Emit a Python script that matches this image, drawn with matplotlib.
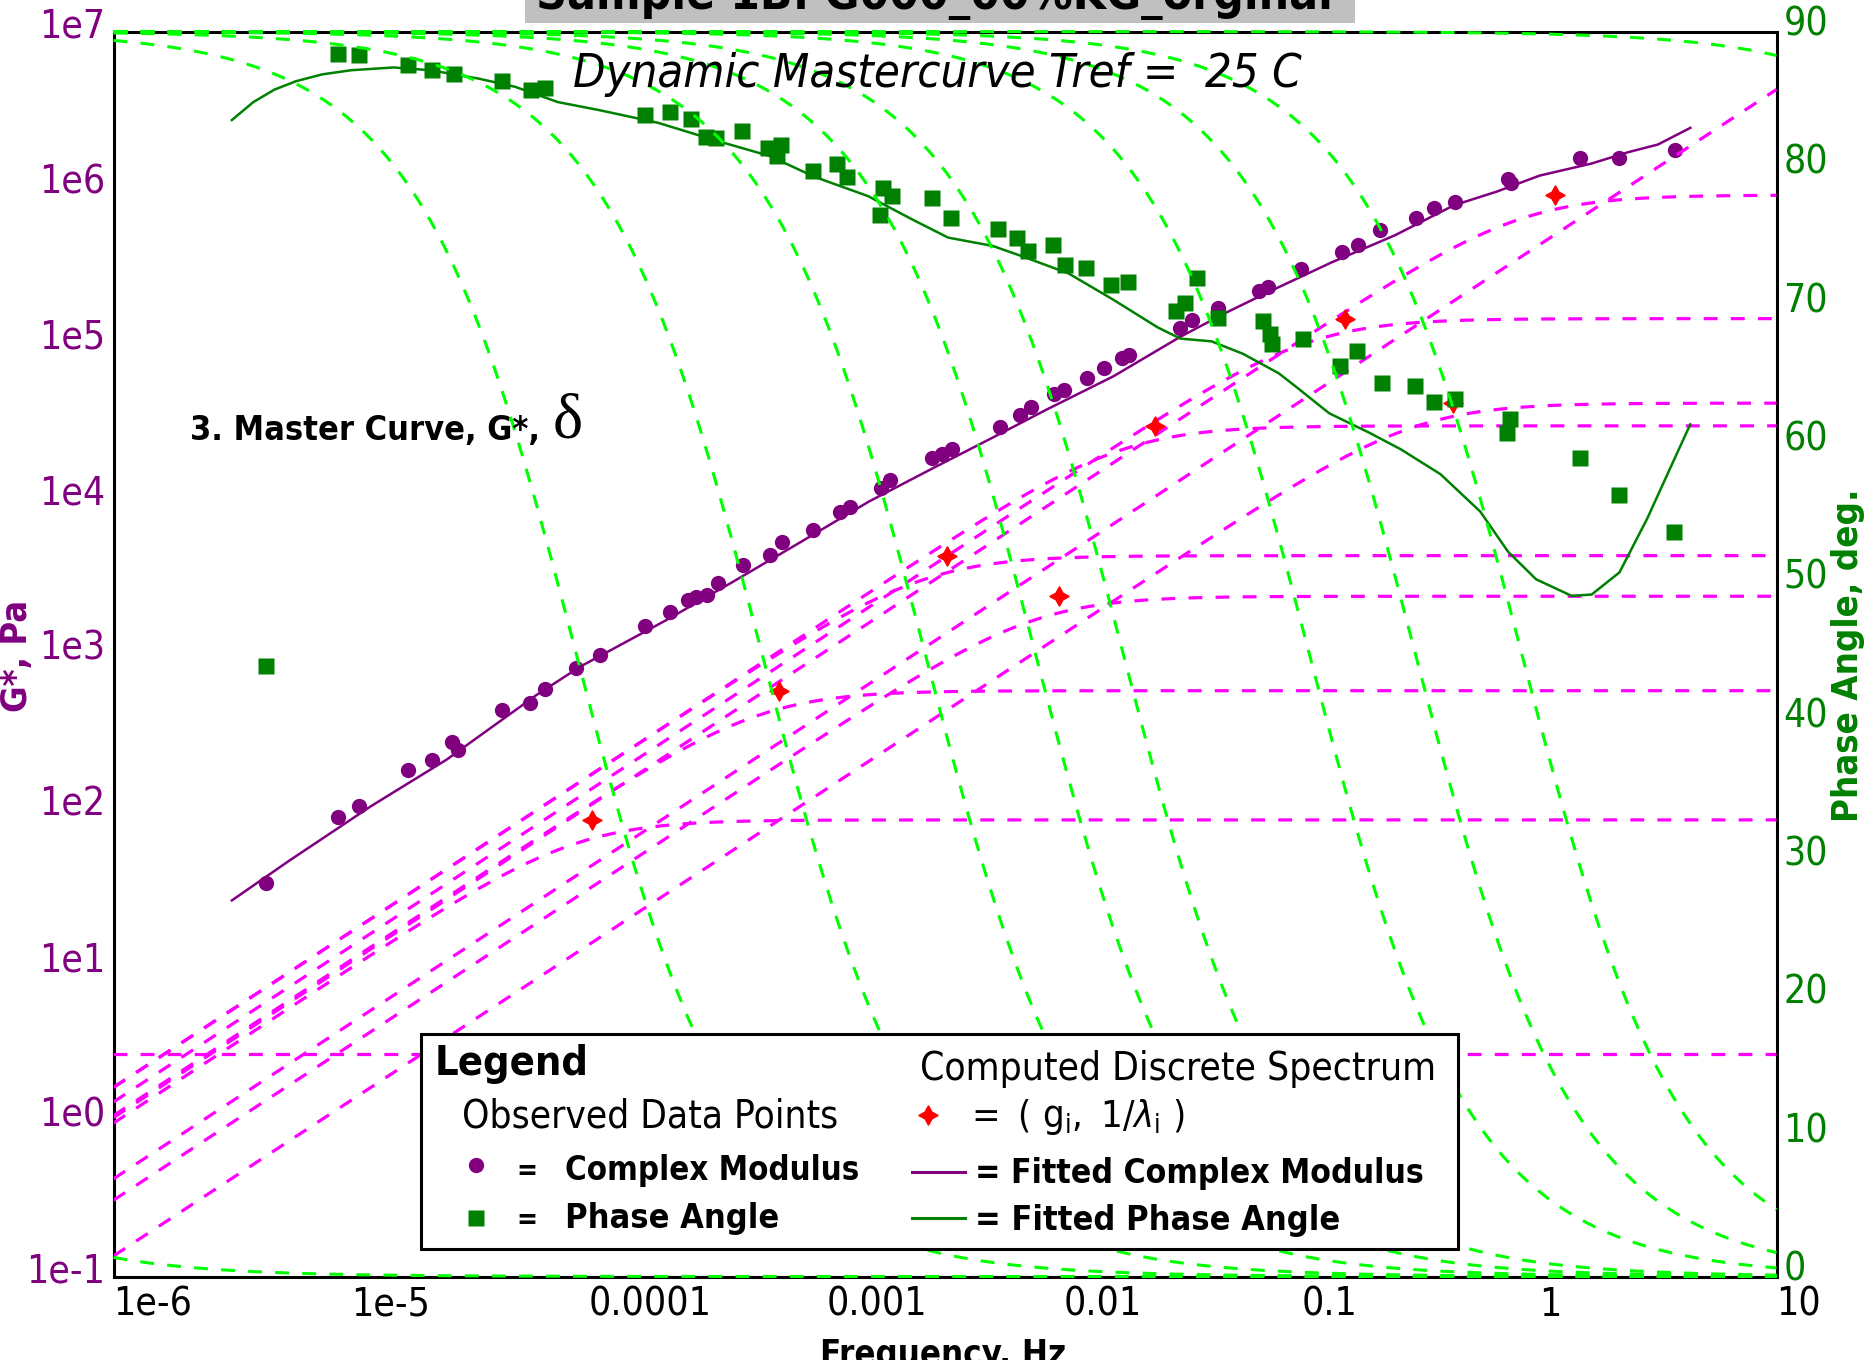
import numpy as np
import matplotlib
matplotlib.use("Agg")
import matplotlib.pyplot as plt
from matplotlib import font_manager
from matplotlib.patches import Rectangle
from matplotlib.lines import Line2D
from matplotlib.ticker import NullLocator

# ---------------- observed complex modulus |G*| (Pa) ----------------
gstar_freq = [4.37e-6, 8.81e-6, 1.08e-5, 1.73e-5, 2.19e-5, 2.65e-5, 2.81e-5, 4.33e-5,
              5.66e-5, 6.53e-5, 8.83e-5, 1.12e-4, 1.72e-4, 2.19e-4, 2.61e-4, 2.83e-4,
              3.16e-4, 3.51e-4, 4.46e-4, 5.78e-4, 6.52e-4, 8.79e-4, 1.14e-3, 1.26e-3,
              1.70e-3, 1.86e-3, 2.80e-3, 3.08e-3, 3.40e-3, 5.37e-3, 6.52e-3, 7.26e-3,
              9.06e-3, 1.00e-2, 1.25e-2, 1.48e-2, 1.76e-2, 1.88e-2, 3.09e-2, 3.45e-2,
              4.45e-2, 6.64e-2, 7.23e-2, 9.93e-2, 0.148, 0.173, 0.215, 0.303, 0.361,
              0.445, 0.740, 0.762, 1.49, 2.17, 3.73]
gstar_pa = [33.7, 90.2, 106, 180, 208, 270, 242, 438, 483, 594, 811, 979, 1503, 1866,
            2228, 2339, 2404, 2851, 3741, 4335, 5272, 6266, 8222, 8851, 11610, 13150,
            18110, 19320, 20650, 28910, 34360, 38820, 46770, 49770, 59160, 68550,
            79430, 83750, 123900, 140300, 168300, 214000, 229600, 299200, 385500,
            425600, 530900, 631000, 738000, 807000, 1127000, 1067000, 1549000,
            1549000, 1734000]

# ---------------- observed phase angle (deg) ----------------
phase_freq = [4.37e-6, 8.81e-6, 1.08e-5, 1.73e-5, 2.19e-5, 2.72e-5, 4.32e-5, 5.73e-5,
              6.52e-5, 1.72e-4, 2.21e-4, 2.69e-4, 3.13e-4, 3.45e-4, 4.42e-4, 5.69e-4,
              6.46e-4, 6.22e-4, 8.83e-4, 1.11e-3, 1.22e-3, 1.73e-3, 1.89e-3, 1.68e-3,
              2.78e-3, 3.34e-3, 5.30e-3, 6.38e-3, 7.10e-3, 9.04e-3, 1.01e-2, 1.24e-2,
              1.58e-2, 1.87e-2, 3.62e-2, 3.25e-2, 2.96e-2, 4.46e-2, 6.90e-2, 7.36e-2,
              7.53e-2, 0.102, 0.172, 0.146, 0.219, 0.302, 0.360, 0.445, 0.757, 0.733,
              1.49, 2.18, 3.72]
phase_deg = [44.1, 88.4, 88.3, 87.6, 87.2, 86.9, 86.4, 85.8, 85.9, 84.0, 84.2, 83.7,
             82.4, 82.3, 82.8, 81.6, 81.8, 81.0, 79.9, 80.4, 79.5, 78.7, 78.1, 76.7,
             78.0, 76.5, 75.7, 75.1, 74.1, 74.6, 73.1, 72.9, 71.7, 71.9, 72.2, 70.4,
             69.8, 69.3, 69.1, 68.1, 67.4, 67.8, 66.9, 65.8, 64.6, 64.4, 63.2, 63.4,
             62.0, 61.0, 59.2, 56.5, 53.8]

# ---------------- fitted curves ----------------
fit_gstar_freq = [3.15e-6, 5.55e-6, 1.21e-5, 2.53e-5, 6.03e-5, 9.25e-5, 2.13e-4, 4.06e-4,
                  7.78e-4, 1.51e-3, 2.88e-3, 4.84e-3, 8.45e-3, 1.62e-2, 3.09e-2, 4.80e-2,
                  7.36e-2, 0.133, 0.248, 0.438, 0.664, 1.007, 1.66, 2.37, 3.17, 4.34]
fit_gstar_pa = [26.1, 47.5, 105, 210, 545, 832, 1656, 2917, 5224, 9528, 15920, 23880,
                37150, 60950, 109100, 155600, 213800, 326600, 490900, 763800, 935400,
                1186000, 1416000, 1675000, 1879000, 2404000]
fit_phase_freq = [3.15e-6, 3.88e-6, 4.76e-6, 5.85e-6, 7.55e-6, 1.0e-5, 1.51e-5, 2.16e-5,
                  3.43e-5, 4.91e-5, 7.41e-5, 1.12e-4, 1.96e-4, 3.46e-4, 5.78e-4, 8.91e-4,
                  1.50e-3, 2.31e-3, 3.26e-3, 5.02e-3, 6.81e-3, 1.05e-2, 1.62e-2, 2.49e-2,
                  3.10e-2, 4.19e-2, 5.68e-2, 8.02e-2, 9.53e-2, 0.131, 0.193, 0.262, 0.385,
                  0.566, 0.741, 0.973, 1.374, 1.667, 2.183, 2.858, 3.741, 4.335]
fit_phase_deg = [83.6, 84.9, 85.8, 86.4, 86.9, 87.2, 87.4, 87.2, 86.6, 86.0, 84.9, 84.3,
                 83.4, 82.1, 81.0, 79.5, 78.1, 76.4, 75.1, 74.5, 73.7, 72.5, 70.6, 68.6,
                 67.8, 67.6, 66.7, 65.3, 64.3, 62.4, 61.0, 59.8, 58.0, 55.3, 52.4, 50.4,
                 49.2, 49.3, 50.9, 54.8, 59.2, 61.6]

# ---------------- discrete relaxation spectrum ----------------
mode_freq = [2.41e-8, 8.87e-5, 5.37e-4, 2.61e-3, 7.60e-3, 1.78e-2, 0.108, 0.302, 0.847, 330.0]
mode_modulus = [2.67, 85.9, 581, 4285, 2350, 29240, 142900, 40930, 889000, 1.4e8]
spectrum_freq = [1.03e-4, 6.35e-4, 3.23e-3, 9.53e-3, 2.41e-2, 0.153, 0.433, 1.167]
spectrum_modulus = [85.9, 581, 4285, 2350, 29240, 142900, 40930, 889000]

# ---------------- axis ticks ----------------
freq_ticks = [1e-6, 1e-5, 1e-4, 1e-3, 1e-2, 1e-1, 1, 10]
freq_tick_labels = ['1e-6', '1e-5', '0.0001', '0.001', '0.01', '0.1', '1', '10']
gstar_ticks = [1e-1, 1e0, 1e1, 1e2, 1e3, 1e4, 1e5, 1e6, 1e7]
gstar_tick_labels = ['1e-1', '1e0', '1e1', '1e2', '1e3', '1e4', '1e5', '1e6', '1e7']
phase_ticks = [0, 10, 20, 30, 40, 50, 60, 70, 80, 90]
phase_tick_labels = [str(v) for v in phase_ticks]

PURPLE = '#800080'
GREEN = '#008000'
LIME = '#00FF00'
MAGENTA = '#FF00FF'
RED = '#FF0000'
GREY = '#C0C0C0'

W, H, DPI = 1873, 1360, 100

fonts = font_manager.fontManager.ttflist
HAS_COND = any(f.name == 'DejaVu Sans' and 'condensed' in str(f.stretch) for f in fonts)
STRETCH = 'condensed' if HAS_COND else 'normal'
SERIF = 'Liberation Serif' if any(f.name == 'Liberation Serif' for f in fonts) else 'DejaVu Serif'
plt.rcParams['font.family'] = ['DejaVu Sans']
plt.rcParams['font.stretch'] = STRETCH
plt.rcParams['lines.scale_dashes'] = False
plt.rcParams['mathtext.fontset'] = 'dejavusans'
TICK_SIZE = 28 if HAS_COND else 22

fig = plt.figure(figsize=(W / DPI, H / DPI), dpi=DPI)
fig.patch.set_facecolor('white')

L, R, T, B = 113.5, 1776.5, 31.5, 1276.5
ax = fig.add_axes([L / W, 1 - B / H, (R - L) / W, (B - T) / H])
ax.set_xscale('log')
ax.set_yscale('log')
ax.set_xlim(1e-6, 10)
ax.set_ylim(1e-1, 1e7)
ax2 = ax.twinx()
ax2.set_ylim(0, 90)
for a in (ax, ax2):
    for axis in (a.xaxis, a.yaxis):
        axis.set_major_locator(NullLocator())
        axis.set_minor_locator(NullLocator())
for s in ax.spines.values():
    s.set_linewidth(2.2)
    s.set_color('black')
for s in ax2.spines.values():
    s.set_visible(False)

DASH = (10, 9.5)
f = np.logspace(-6, 1, 900)

# modulus side: data, fit, Maxwell elements, spectrum points
ax.plot(gstar_freq, gstar_pa, ls='none', marker='o', ms=11, color=PURPLE, mec='none', zorder=3)
ax.plot(fit_gstar_freq, fit_gstar_pa, '-', lw=1.8, color=PURPLE, zorder=3)
for fi, gi in zip(mode_freq, mode_modulus):
    r = f / fi
    ax.plot(f, gi * r / np.sqrt(1 + r * r), color=MAGENTA, lw=2.3, dashes=DASH, zorder=4)
ax.plot(spectrum_freq, spectrum_modulus, ls='none', marker=(4, 1, 0), ms=14,
        color=RED, mec=RED, zorder=5)
ax.plot(spectrum_freq, spectrum_modulus, ls='none', marker='D', ms=6,
        color=RED, mec=RED, zorder=5)

# phase side: data, fit, element phase angles
ax2.plot(phase_freq, phase_deg, ls='none', marker='s', ms=11.5, color=GREEN, mec='none', zorder=3)
ax2.plot(fit_phase_freq, fit_phase_deg, '-', lw=1.8, color=GREEN, zorder=3)
for fi in mode_freq:
    ax2.plot(f, np.degrees(np.arctan(fi / f)), color=LIME, lw=2.2, dashes=DASH,
             zorder=4, clip_on=False)

# tick labels
for v, s in zip(freq_ticks, freq_tick_labels):
    ax.annotate(s, xy=(v, 0), xycoords=('data', 'axes fraction'), xytext=(0, -9),
                textcoords='offset pixels', ha='left', va='top', fontsize=TICK_SIZE,
                color='black', annotation_clip=False)
for v, s in zip(gstar_ticks, gstar_tick_labels):
    ax.annotate(s, xy=(0, v), xycoords=('axes fraction', 'data'), xytext=(-8, 5),
                textcoords='offset pixels', ha='right', va='center', fontsize=TICK_SIZE,
                color=PURPLE, annotation_clip=False)
for v, s in zip(phase_ticks, phase_tick_labels):
    ax2.annotate(s, xy=(1, v), xycoords=('axes fraction', 'data'), xytext=(7, 7),
                 textcoords='offset pixels', ha='left', va='center', fontsize=TICK_SIZE,
                 color=GREEN, annotation_clip=False)

renderer = fig.canvas.get_renderer()


def fit_text(x, y, s, width, rotation=0, **kw):
    t = fig.text(x / W, 1 - y / H, s, fontsize=20, **kw)
    w = t.get_window_extent(renderer).width
    t.set_fontsize(20 * width / w)
    t.set_rotation(rotation)
    return t


def fig_xy(x, y):
    return x / W, 1 - y / H


# title strip
fig.add_artist(Rectangle(fig_xy(525, 22.7), (1355 - 525) / W, 40 / H,
                         transform=fig.transFigure, facecolor=GREY, edgecolor='none', zorder=10))
fit_text(536, 9, 'Sample 1B: G000_00%KG_orginal', 797, ha='left', va='baseline',
         fontweight='bold', color='black', zorder=11)

fit_text(573, 87, 'Dynamic Mastercurve Tref =  25 C', 729, ha='left', va='baseline',
         style='italic', color='black', zorder=11)
fit_text(190, 440, '3. Master Curve, G*,', 350, ha='left', va='baseline',
         fontweight='bold', color='black', zorder=11)
fit_text(553, 438, 'δ', 30, ha='left', va='baseline', family=SERIF, color='black', zorder=11)

# axis titles
fit_text(17, 656, 'G*, Pa', 112, rotation=90, ha='center', va='center',
         fontweight='bold', color=PURPLE)
fit_text(1848, 655, 'Phase Angle, deg.', 333, rotation=90, ha='center', va='center',
         fontweight='bold', color=GREEN)
fit_text(943, 1338, 'Frequency, Hz', 246, ha='center', va='top', fontweight='bold', color='black')

# legend panel
fig.add_artist(Rectangle(fig_xy(421, 1249), (1458 - 421) / W, (1249 - 1034) / H,
                         transform=fig.transFigure, facecolor='white', edgecolor='black',
                         lw=2.2, zorder=20))
LZ = 21
fit_text(435, 1075, 'Legend', 154, ha='left', va='baseline', fontweight='bold', zorder=LZ)
fit_text(462, 1127, 'Observed Data Points', 376, ha='left', va='baseline', zorder=LZ)
fit_text(920, 1080, 'Computed Discrete Spectrum', 515, ha='left', va='baseline', zorder=LZ)

fig.add_artist(Line2D([476 / W], [1 - 1165 / H], ls='none', marker='o', ms=11, color=PURPLE,
                      mec='none', transform=fig.transFigure, zorder=LZ))
fig.add_artist(Line2D([476 / W], [1 - 1218 / H], ls='none', marker='s', ms=11.5, color=GREEN,
                      mec='none', transform=fig.transFigure, zorder=LZ))
fit_text(516, 1179, '=', 21, ha='left', va='baseline', fontweight='bold', zorder=LZ)
fit_text(516, 1228, '=', 21, ha='left', va='baseline', fontweight='bold', zorder=LZ)
fit_text(565, 1180, 'Complex Modulus', 295, ha='left', va='baseline', fontweight='bold', zorder=LZ)
fit_text(565, 1228, 'Phase Angle', 214, ha='left', va='baseline', fontweight='bold', zorder=LZ)

fig.add_artist(Line2D([928 / W], [1 - 1115 / H], ls='none', marker=(4, 1, 0), ms=14, color=RED,
                      mec=RED, transform=fig.transFigure, zorder=LZ))
fig.add_artist(Line2D([928 / W], [1 - 1115 / H], ls='none', marker='D', ms=6, color=RED,
                      mec=RED, transform=fig.transFigure, zorder=LZ))
fit_text(965, 1127, r'$=\ (\ \mathrm{g}_\mathrm{i},\ 1/\lambda_\mathrm{i}\ )$', 221,
         ha='left', va='baseline', zorder=LZ)

fig.add_artist(Line2D([912 / W, 965 / W], [1 - 1172 / H, 1 - 1172 / H], lw=2.2, color=PURPLE,
                      transform=fig.transFigure, zorder=LZ))
fig.add_artist(Line2D([912 / W, 965 / W], [1 - 1218 / H, 1 - 1218 / H], lw=2.2, color=GREEN,
                      transform=fig.transFigure, zorder=LZ))
fit_text(975, 1183, '= Fitted Complex Modulus', 449, ha='left', va='baseline',
         fontweight='bold', zorder=LZ)
fit_text(975, 1230, '= Fitted Phase Angle', 365, ha='left', va='baseline',
         fontweight='bold', zorder=LZ)

fig.savefig('out.png', dpi=DPI, facecolor='white')
